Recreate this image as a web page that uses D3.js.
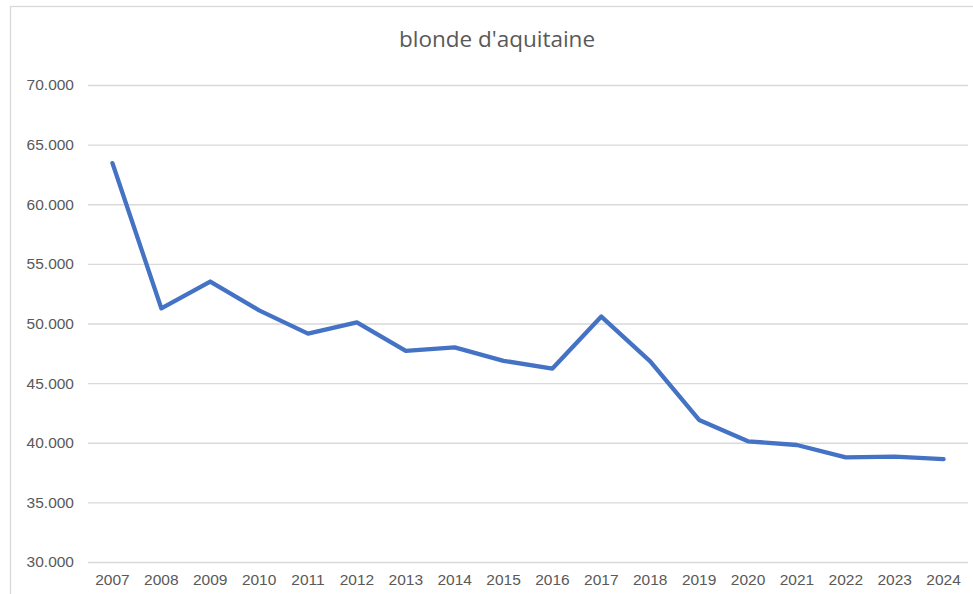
<!DOCTYPE html>
<html>
<head>
<meta charset="utf-8">
<script src="https://cdn.jsdelivr.net/npm/d3@7"></script>
<style>
  body { margin: 0; background: #fff; }
  svg { display: block; font-family: "Open Sans", "Noto Sans", sans-serif; }
  .grid line { stroke: #d9d9d9; stroke-width: 1.3; }
  .axis text { fill: #595959; font-size: 15.5px; }
</style>
</head>
<body>
<svg width="973" height="594"></svg>
<script>
// data
var years = ["2007", "2008", "2009", "2010", "2011", "2012", "2013", "2014", "2015",
             "2016", "2017", "2018", "2019", "2020", "2021", "2022", "2023", "2024"];
var heads = [63450, 51270, 53520, 51100, 49150, 50100, 47710, 48000, 46870,
             46220, 50580, 46820, 41910, 40120, 39810, 38780, 38830, 38620];
var yTicks = [30000, 35000, 40000, 45000, 50000, 55000, 60000, 65000, 70000];
var title = "blonde d'aquitaine";

var svg = d3.select("svg"),
    width = +svg.attr("width"),
    height = +svg.attr("height"),
    margin = {top: 85, right: 5, bottom: 32, left: 88};

// chart frame (cut off on the right and bottom)
svg.append("rect")
    .attr("x", 10.5).attr("y", 6.5)
    .attr("width", width + 10).attr("height", height + 10)
    .attr("fill", "none").attr("stroke", "#d9d9d9").attr("stroke-width", 1.3);

var x = d3.scaleBand().domain(years).range([margin.left, width - margin.right]);
var y = d3.scaleLinear().domain([30000, 70000]).range([height - margin.bottom, margin.top]);

var fmt = function(d) { return d3.format(",")(d).replace(/,/g, "."); };

// horizontal gridlines
svg.append("g").attr("class", "grid")
    .attr("transform", "translate(" + margin.left + ",0)")
    .call(d3.axisLeft(y).tickValues(yTicks).tickSize(-(width - margin.right - margin.left)).tickFormat(""))
    .call(function(g) { g.select(".domain").remove(); });

// y labels
svg.append("g").attr("class", "axis")
    .attr("transform", "translate(" + (margin.left - 14) + ",0)")
    .call(d3.axisLeft(y).tickValues(yTicks).tickSize(0).tickPadding(0).tickFormat(fmt))
    .call(function(g) { g.select(".domain").remove(); });

// x labels
svg.append("g").attr("class", "axis")
    .attr("transform", "translate(0," + (height - margin.bottom + 4) + ")")
    .call(d3.axisBottom(x).tickSize(0).tickPadding(8))
    .call(function(g) { g.select(".domain").remove(); });

var line = d3.line()
    .x(function(d, i) { return x(years[i]) + x.bandwidth() / 2; })
    .y(function(d) { return y(d); });

svg.append("path")
    .datum(heads)
    .attr("fill", "none")
    .attr("stroke", "#4472c4")
    .attr("stroke-width", 4.3)
    .attr("stroke-linejoin", "round")
    .attr("stroke-linecap", "round")
    .attr("d", line);

svg.append("text")
    .attr("x", 497).attr("y", 47)
    .attr("text-anchor", "middle")
    .attr("fill", "#595959")
    .style("font-size", "22.5px")
    .text(title);
</script>
</body>
</html>
